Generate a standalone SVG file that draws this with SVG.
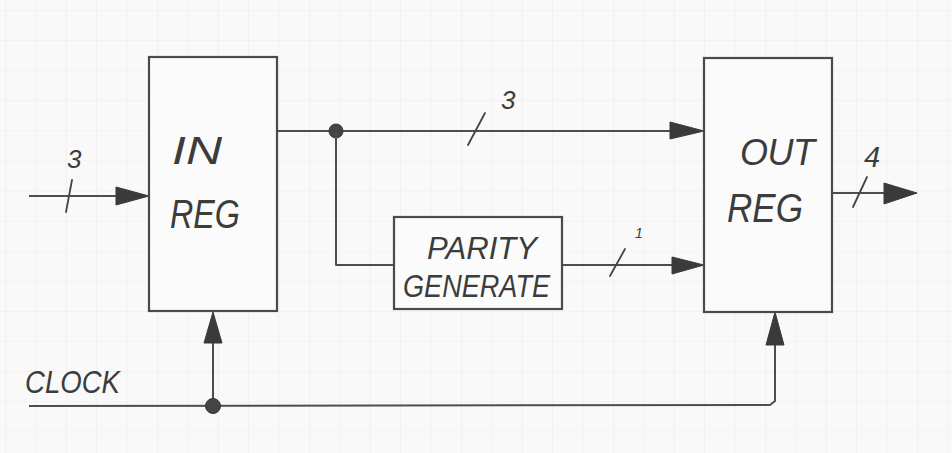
<svg xmlns="http://www.w3.org/2000/svg" width="952" height="453" viewBox="0 0 952 453">
<defs>
<pattern id="grid" x="5" y="10" width="30.4" height="30.1" patternUnits="userSpaceOnUse">
<path d="M0 0 H30.4 M0 0 V30.1" fill="none" stroke="#ebebeb" stroke-width="1.2"/>
</pattern>
<style>
.box{fill:#fbfbfb;stroke:#4a4a4a;stroke-width:2.2}
.w{fill:none;stroke:#4d4d4d;stroke-width:2;stroke-linejoin:round}
.ah{fill:#3a3a3a;stroke:#3a3a3a;stroke-width:1;stroke-linejoin:round}
.dot{fill:#444;stroke:#333;stroke-width:1}
.t{font-family:"Liberation Sans",Arial,sans-serif;font-style:italic;fill:#3c3c3c}
.sl{stroke:#444;stroke-width:1.8;fill:none;stroke-linecap:round}
</style>
</defs>
<rect width="952" height="453" fill="#f9f9f9"/>
<rect width="952" height="453" fill="url(#grid)"/>

<g id="connectors">
<!-- input -->
<line class="w" x1="29" y1="196" x2="118" y2="196"/>
<polygon class="ah" points="116,187 149,196 116,205"/>
<line class="sl" x1="66" y1="212" x2="72" y2="180"/>
<!-- top bus -->
<line class="w" x1="277" y1="131" x2="672" y2="131"/>
<polygon class="ah" points="670,122 704,131 670,139"/>
<line class="sl" x1="468" y1="145" x2="485" y2="113"/>
<circle class="dot" cx="336" cy="131" r="7"/>
<!-- branch to parity -->
<polyline class="w" points="336,131 336,265 394,265"/>
<!-- parity out -->
<line class="w" x1="562" y1="265" x2="674" y2="265"/>
<polygon class="ah" points="672,257 704,265 672,274"/>
<line class="sl" x1="610" y1="276" x2="625" y2="249"/>
<!-- output -->
<line class="w" x1="832" y1="193" x2="886" y2="193"/>
<polygon class="ah" points="884,183 917,193 884,204"/>
<line class="sl" x1="853" y1="207" x2="867" y2="177"/>
<!-- clock -->
<polyline class="w" points="29,406 770,405 775,401 775,345"/>
<line class="w" x1="213" y1="406" x2="213" y2="343"/>
<polygon class="ah" points="213,312 222,343 204,343"/>
<polygon class="ah" points="775,312 784,345 766,345"/>
<circle class="dot" cx="213" cy="406" r="7.5"/>
</g>

<g id="in-reg">
<rect class="box" x="149" y="57" width="128" height="254"/>
<text class="t" x="172" y="164" font-size="38" textLength="50" lengthAdjust="spacingAndGlyphs">IN</text>
<text class="t" x="170" y="228" font-size="40" textLength="70" lengthAdjust="spacingAndGlyphs">REG</text>
</g>

<g id="out-reg">
<rect class="box" x="704" y="58" width="128" height="254"/>
<text class="t" x="740" y="165" font-size="36" textLength="75" lengthAdjust="spacing">OUT</text>
<text class="t" x="727" y="222" font-size="40" textLength="76" lengthAdjust="spacingAndGlyphs">REG</text>
</g>

<g id="parity">
<rect class="box" x="394" y="217" width="168" height="92"/>
<text class="t" x="427" y="259" font-size="32" textLength="110" lengthAdjust="spacingAndGlyphs">PARITY</text>
<text class="t" x="403" y="297" font-size="32" textLength="147" lengthAdjust="spacingAndGlyphs">GENERATE</text>
</g>

<g id="labels">
<text class="t" x="67" y="168" font-size="26">3</text>
<text class="t" x="501" y="109" font-size="26">3</text>
<text class="t" x="635" y="238" font-size="14">1</text>
<text class="t" x="864" y="167" font-size="29">4</text>
<text class="t" x="25" y="393" font-size="32" textLength="95" lengthAdjust="spacingAndGlyphs">CLOCK</text>
</g>
</svg>
